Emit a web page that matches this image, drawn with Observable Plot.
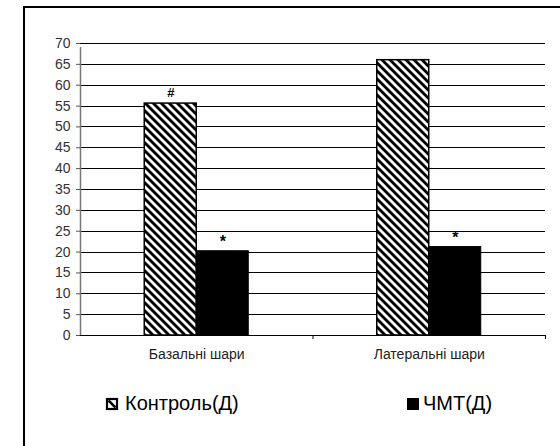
<!DOCTYPE html>
<html>
<head>
<meta charset="utf-8">
<script src="https://cdn.jsdelivr.net/npm/d3@7"></script>
<script src="https://cdn.jsdelivr.net/npm/@observablehq/plot@0.6"></script>
<style>
  html, body { margin: 0; padding: 0; width: 560px; height: 446px; overflow: hidden; background: #fff; }
  #frame { position: absolute; left: 23px; top: 6px; width: 600px; height: 500px; border: 2px solid #000; box-sizing: border-box; }
  #chart { position: absolute; left: 0; top: 0; }
  #legend { position: absolute; left: 0; top: 380px; }
</style>
</head>
<body>
<div id="frame"></div>
<div id="chart"></div>
<svg id="legend" width="560" height="50" font-family="Liberation Sans, Arial, sans-serif"></svg>
<script>
// ---- data ----
const categories = ["Базальні шари", "Латеральні шари"];
const seriesNames = ["Контроль(Д)", "ЧМТ(Д)"];
const controlValues = [55.6, 66.0];
const tbiValues = [20.2, 21.2];
const controlMarks = ["#", ""];
const tbiMarks = ["*", "*"];
const yTicks = [0, 5, 10, 15, 20, 25, 30, 35, 40, 45, 50, 55, 60, 65, 70];

const controlRows = categories.map((c, i) => ({cat: c, value: controlValues[i], mark: controlMarks[i]}));
const tbiRows = categories.map((c, i) => ({cat: c, value: tbiValues[i], mark: tbiMarks[i]}));

const W = 560, H = 370, ML = 80, MR = 15;
const half = (W - ML - MR) / categories.length / 2; // half band width
const barW = 52;

const chart = Plot.plot({
  width: W, height: H,
  marginLeft: ML, marginRight: MR, marginTop: 43, marginBottom: 35,
  style: {fontFamily: "Liberation Sans, Arial, sans-serif", background: "transparent", overflow: "visible"},
  x: {domain: categories, padding: 0, label: null, round: false},
  y: {domain: [0, 70], label: null},
  marks: [
    Plot.ruleY(yTicks, {stroke: "#000", strokeWidth: 1, shapeRendering: "crispEdges"}),
    Plot.barY(controlRows, {x: "cat", y: "value", fill: "url(#hatch)", stroke: "#000", strokeWidth: 1.5,
      insetLeft: half - barW, insetRight: half}),
    Plot.barY(tbiRows, {x: "cat", y: "value", fill: "#000", stroke: "#000", strokeWidth: 1,
      insetLeft: half, insetRight: half - barW}),
    Plot.text(controlRows, {x: "cat", y: "value", text: "mark", dx: -barW / 2, dy: -11, fontSize: 13, fontWeight: "bold", fill: "#000"}),
    Plot.text(tbiRows, {x: "cat", y: "value", text: "mark", dx: barW / 2, dy: -9, fontSize: 16, fontWeight: "bold", fill: "#000"}),
    // y axis line + left tick
    Plot.ruleX([categories[0]], {x: d => d, dx: -half, y1: 0, y2: 70, insetBottom: -4, stroke: "#777", strokeWidth: 1.5}),
    // x boundary ticks
    Plot.ruleX(categories, {x: d => d, dx: half, y1: 0, y2: 0, insetBottom: -4, stroke: "#000"}),
    Plot.axisY({ticks: yTicks, tickSize: 4, tickPadding: 6, fontSize: 14, fill: "#333", stroke: "#555"}),
    Plot.axisX({tickSize: 0, tickPadding: 14, fontSize: 14, fill: "#222"})
  ]
});

// hatch pattern
const svg = d3.select(chart);
const defs = svg.insert("defs", ":first-child");
const pat = defs.append("pattern")
  .attr("id", "hatch").attr("patternUnits", "userSpaceOnUse")
  .attr("width", 5.66).attr("height", 5.66)
  .attr("patternTransform", "rotate(-45)");
pat.append("rect").attr("width", 5.66).attr("height", 5.66).attr("fill", "#fff");
pat.append("rect").attr("width", 2.9).attr("height", 5.66).attr("fill", "#000");

document.getElementById("chart").appendChild(chart);

// legend (below the chart)
const lg = d3.select("#legend");
const ly = 30; // baseline in legend svg (page y = 410)
const g1 = lg.append("g").attr("transform", "translate(106,18)");
g1.append("rect").attr("x", 1).attr("y", 1).attr("width", 10).attr("height", 10).attr("fill", "#fff").attr("stroke", "#000").attr("stroke-width", 2.2);
g1.append("line").attr("x1", 2.5).attr("y1", 2.5).attr("x2", 9.5).attr("y2", 9.5).attr("stroke", "#000").attr("stroke-width", 2.5);
lg.append("text").attr("x", 125).attr("y", ly).attr("font-size", 20).attr("fill", "#000").text(seriesNames[0]);
lg.append("rect").attr("x", 407).attr("y", 18).attr("width", 12).attr("height", 12).attr("fill", "#000");
lg.append("text").attr("x", 423).attr("y", ly).attr("font-size", 20).attr("fill", "#000").text(seriesNames[1]);
</script>
</body>
</html>
